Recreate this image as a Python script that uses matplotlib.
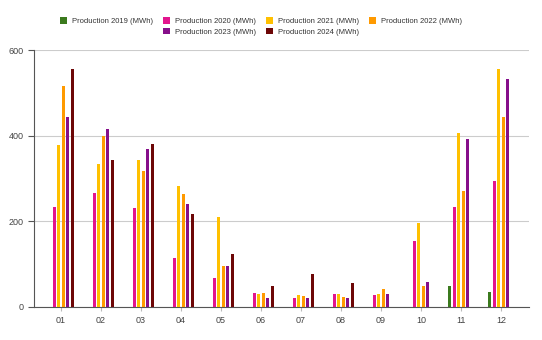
import numpy as np
import matplotlib
matplotlib.use("Agg")
import matplotlib.pyplot as plt

months = ["01", "02", "03", "04", "05", "06", "07", "08", "09", "10", "11", "12"]

# Monthly production per year in MWh (NaN = no data for that month)
prod_2019 = [np.nan] * 10 + [47, 34]
prod_2020 = [234, 266, 230, 114, 67, 32, 19, 30, 26, 154, 234, 294]
prod_2021 = [378, 334, 344, 283, 209, 30, 26, 30, 30, 196, 406, 556]
prod_2022 = [516, 400, 317, 264, 95, 32, 24, 22, 42, 47, 271, 444]
prod_2023 = [444, 415, 368, 240, 95, 19, 19, 19, 29, 57, 393, 533]
prod_2024 = [556, 342, 381, 216, 122, 48, 76, 54, np.nan, np.nan, np.nan, np.nan]

series = [
    ("Production 2019 (MWh)", prod_2019, "#3b7a1e"),
    ("Production 2020 (MWh)", prod_2020, "#e2158e"),
    ("Production 2021 (MWh)", prod_2021, "#ffc000"),
    ("Production 2022 (MWh)", prod_2022, "#ff9a00"),
    ("Production 2023 (MWh)", prod_2023, "#860f8a"),
    ("Production 2024 (MWh)", prod_2024, "#6d0707"),
]

plt.rcParams["font.family"] = ["Liberation Sans", "DejaVu Sans"]

fig = plt.figure(figsize=(5.42, 3.4), dpi=100)
ax = fig.add_axes([0.0627, 0.0985, 0.9133, 0.7535])

x = np.arange(len(months))
slot = 0.115
handles = []
for i, (label, vals, color) in enumerate(series):
    h = ax.bar(x + (i - 2.5) * slot, vals, width=0.075, color=color,
               label=label, zorder=3)
    handles.append(h)

ax.set_xlim(-0.675, 11.7)
ax.set_ylim(0, 600)
ax.set_yticks([0, 200, 400, 600])
ax.set_xticks(x)
ax.set_xticklabels(months)
ax.grid(axis="y", color="#cccccc", linewidth=0.8, zorder=0)

for side in ("top", "right"):
    ax.spines[side].set_visible(False)
ax.spines["left"].set_color("#555555")
ax.spines["bottom"].set_color("#555555")
ax.spines["left"].set_linewidth(0.8)
ax.spines["bottom"].set_linewidth(0.8)
ax.tick_params(axis="y", length=4, width=0.8, color="#555555",
               labelsize=6.5, labelcolor="#444444", pad=3.5)
ax.tick_params(axis="x", length=3, width=0.8, color="#bbbbbb",
               labelsize=6.5, labelcolor="#444444", pad=4)

# two legend rows, both centred over the plot
legend_kw = dict(frameon=False, fontsize=5.5, handlelength=0.92,
                 handleheight=1.0, handletextpad=0.65, columnspacing=1.3,
                 borderpad=0, labelcolor="#333333")
fig.legend(handles=handles[:4], loc="center",
           bbox_to_anchor=(0.482, 0.939), ncol=4, **legend_kw)
fig.legend(handles=handles[4:], loc="center",
           bbox_to_anchor=(0.482, 0.907), ncol=2, **legend_kw)

fig.savefig("out.png", dpi=100)
